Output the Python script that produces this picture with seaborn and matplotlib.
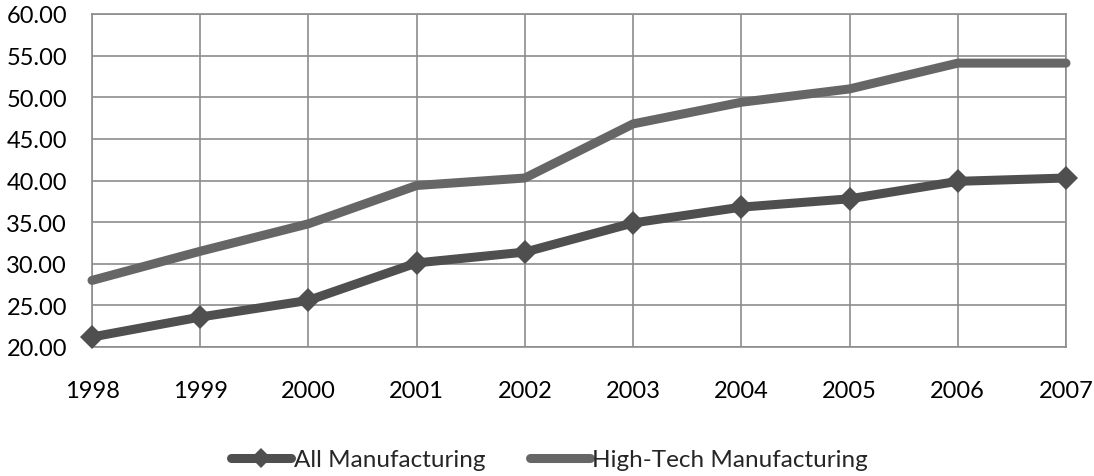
import matplotlib
matplotlib.use("Agg")
import matplotlib.pyplot as plt
import seaborn as sns
import pandas as pd

years = ["1998", "1999", "2000", "2001", "2002", "2003", "2004", "2005", "2006", "2007"]
all_mfg = [21.2, 23.6, 25.6, 30.1, 31.4, 34.9, 36.8, 37.8, 39.9, 40.3]
high_tech = [28.0, 31.5, 34.8, 39.4, 40.3, 46.8, 49.4, 51.0, 54.1, 54.1]

pos = list(range(len(years)))

sns.set_style("white")
plt.rcParams["font.family"] = ["Lato", "DejaVu Sans"]

fig = plt.figure(figsize=(10.94, 4.77), dpi=100)
ax = fig.add_axes([92 / 1094, 1 - 348 / 477, (1066 - 92) / 1094, (348 - 15) / 477])

sns.lineplot(x=pos, y=all_mfg, color="#4f4f4f", linewidth=6.5, marker="D",
             markersize=12.5, markeredgewidth=0, label="All Manufacturing",
             ax=ax, clip_on=False, zorder=3)
sns.lineplot(x=pos, y=high_tech, color="#666666", linewidth=6.5,
             label="High-Tech Manufacturing", ax=ax, clip_on=False, zorder=3)

ax.set_xlim(0, len(years) - 1)
ax.set_ylim(20, 60)
ax.set_yticks(range(20, 61, 5))
ax.set_yticklabels([f"{v:.2f}" for v in range(20, 61, 5)])
ax.set_xticks(pos)
ax.set_xticklabels(years)
ax.tick_params(axis="both", length=0, labelsize=17, colors="black")
ax.tick_params(axis="x", pad=24)
ax.tick_params(axis="y", pad=18)
ax.grid(True, color="#8c8c8c", linewidth=1.2)
ax.set_axisbelow(True)
for s in ax.spines.values():
    s.set_color("#8c8c8c")
    s.set_linewidth(1.2)

leg = ax.legend(loc="center", bbox_to_anchor=(0.5 - 0.03, -0.338), ncol=2, frameon=False,
                fontsize=17.5, handlelength=2.47, handletextpad=0.12, columnspacing=1.8,
                markerscale=0.8)

fig.savefig("out.png", dpi=100)
